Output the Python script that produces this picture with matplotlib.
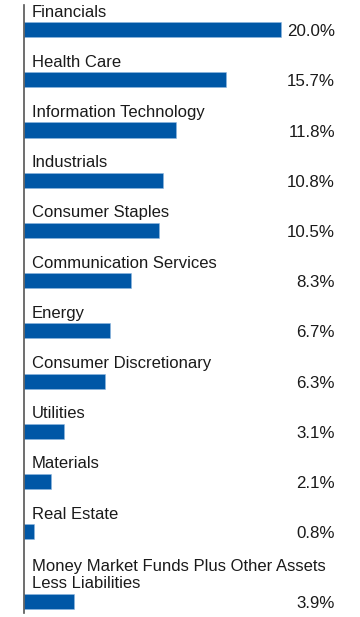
import matplotlib
matplotlib.use("Agg")
import matplotlib.pyplot as plt
import numpy as np

# --- Data ---
sectors = [
    "Financials",
    "Health Care",
    "Information Technology",
    "Industrials",
    "Consumer Staples",
    "Communication Services",
    "Energy",
    "Consumer Discretionary",
    "Utilities",
    "Materials",
    "Real Estate",
    "Money Market Funds Plus Other Assets\nLess Liabilities",
]
weights = [20.0, 15.7, 11.8, 10.8, 10.5, 8.3, 6.7, 6.3, 3.1, 2.1, 0.8, 3.9]

BLUE = "#0057A6"

plt.rcParams.update({
    "font.family": ["Liberation Sans", "DejaVu Sans"],
    "font.size": 12,
})

# row positions: last row gets extra room for its two-line label
ypos = np.arange(len(sectors), dtype=float)
ypos[-1] += 0.39

W, H = 360, 617
fig = plt.figure(figsize=(W / 100, H / 100), dpi=100)
ax = fig.add_axes([24 / W, 4 / H, 336 / W, 608 / H])

ax.barh(ypos, weights, height=0.3, color=BLUE, edgecolor="#8FB8E0", linewidth=0.4)

for y, name, v in zip(ypos, sectors, weights):
    ax.text(0.62, y - 0.2, name, ha="left", va="bottom", fontsize=12,
            color="#1a1a1a", linespacing=1.2)
    ax.text(24.2, y + 0.04, f"{v:.1f}%", ha="right", va="center",
            fontsize=12.2, color="#1a1a1a")

ax.set_xlim(0, 336 / 12.85)
ax.set_ylim(11.62, -0.49)
ax.set_xticks([])
ax.set_yticks([])
for s in ["top", "right", "bottom"]:
    ax.spines[s].set_visible(False)
ax.spines["left"].set_color("#555555")
ax.spines["left"].set_linewidth(1.2)

fig.savefig("out.png", dpi=100)
plt.close()
